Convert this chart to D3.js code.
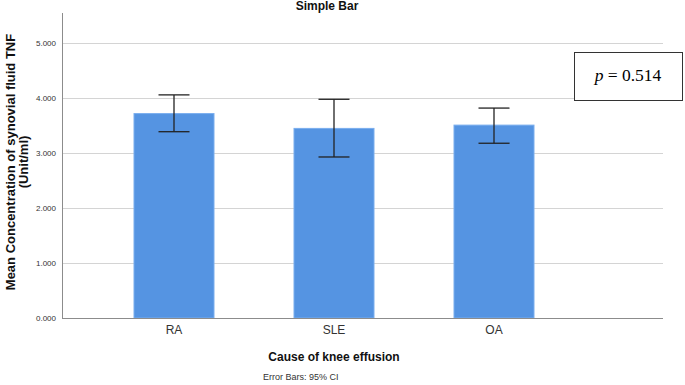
<!DOCTYPE html>
<html>
<head>
<meta charset="utf-8">
<script src="https://cdn.jsdelivr.net/npm/d3@7"></script>
<style>
  body { margin: 0; background: #fff; }
  svg { display: block; font-family: Arial, "Liberation Sans", sans-serif; }
</style>
</head>
<body>
<script>
let categories = ['RA', 'SLE', 'OA'];
let means = [3.72, 3.45, 3.51];
let ciLow = [3.39, 2.93, 3.18];
let ciHigh = [4.06, 3.98, 3.82];
let yTicks = [0, 1, 2, 3, 4, 5];

let dataset = categories.map((c, i) => ({ cat: c, mean: means[i], lo: ciLow[i], hi: ciHigh[i] }));

let dim = { width: 685, height: 385 };
let svg = d3.select('body').append('svg').attr('width', dim.width).attr('height', dim.height);

let plot = { left: 62, right: 663, top: 13, bottom: 318 };

let scaleX = d3.scaleBand().domain(categories).range([94, 574]).paddingInner(0.5).paddingOuter(0.25);
let scaleY = d3.scaleLinear().domain([0, 5.55]).range([plot.bottom, plot.top]);

// gridlines
svg.append('g')
  .selectAll('line')
  .data(yTicks.filter((d) => d > 0))
  .enter()
  .append('line')
  .attr('x1', plot.left)
  .attr('x2', plot.right)
  .attr('y1', (d) => Math.round(scaleY(d)) + 0.5)
  .attr('y2', (d) => Math.round(scaleY(d)) + 0.5)
  .attr('stroke', '#d4d4d4')
  .attr('stroke-width', 1);

// bars
svg.append('g')
  .selectAll('rect')
  .data(dataset)
  .enter()
  .append('rect')
  .attr('x', (d) => scaleX(d.cat))
  .attr('width', scaleX.bandwidth())
  .attr('y', (d) => scaleY(d.mean))
  .attr('height', (d) => scaleY(0) - scaleY(d.mean))
  .attr('fill', '#5594e2')
  .attr('stroke', '#7aaeee')
  .attr('stroke-width', 1);

// y axis
let axisY = d3.axisLeft(scaleY).tickValues(yTicks).tickFormat(d3.format('.3f')).tickSize(0).tickPadding(6);
let gy = svg.append('g').attr('transform', `translate(${plot.left}, 0)`).call(axisY);
gy.select('.domain').remove();
gy.selectAll('text').attr('font-size', 8).attr('fill', '#333').attr('font-family', 'Arial, "Liberation Sans", sans-serif');
svg.append('line')
  .attr('x1', plot.left + 0.5).attr('x2', plot.left + 0.5)
  .attr('y1', plot.top).attr('y2', plot.bottom)
  .attr('stroke', '#8c8c8c');

// x axis
let axisX = d3.axisBottom(scaleX).tickSize(0).tickPadding(7);
let gx = svg.append('g').attr('transform', `translate(0, ${plot.bottom})`).call(axisX);
gx.select('.domain').remove();
gx.selectAll('text').attr('font-size', 12).attr('fill', '#333').attr('font-family', 'Arial, "Liberation Sans", sans-serif');
svg.append('line')
  .attr('x1', plot.left).attr('x2', plot.right)
  .attr('y1', plot.bottom + 0.5).attr('y2', plot.bottom + 0.5)
  .attr('stroke', '#8c8c8c');

// error bars
let capHalf = 15.5;
let eb = svg.append('g').attr('stroke', '#222').attr('stroke-width', 1.3);
let cx = (d) => scaleX(d.cat) + scaleX.bandwidth() / 2;
eb.selectAll('.whisker').data(dataset).enter().append('line')
  .attr('x1', cx).attr('x2', cx)
  .attr('y1', (d) => scaleY(d.lo)).attr('y2', (d) => scaleY(d.hi));
eb.selectAll('.capHi').data(dataset).enter().append('line')
  .attr('x1', (d) => cx(d) - capHalf).attr('x2', (d) => cx(d) + capHalf)
  .attr('y1', (d) => scaleY(d.hi)).attr('y2', (d) => scaleY(d.hi));
eb.selectAll('.capLo').data(dataset).enter().append('line')
  .attr('x1', (d) => cx(d) - capHalf).attr('x2', (d) => cx(d) + capHalf)
  .attr('y1', (d) => scaleY(d.lo)).attr('y2', (d) => scaleY(d.lo));

// titles
svg.append('text').attr('x', 327).attr('y', 10).attr('text-anchor', 'middle')
  .attr('font-size', 12).attr('font-weight', 'bold').attr('fill', '#111').text('Simple Bar');

svg.append('text').attr('x', 334).attr('y', 361).attr('text-anchor', 'middle')
  .attr('font-size', 12).attr('font-weight', 'bold').attr('fill', '#111').text('Cause of knee effusion');

svg.append('text').attr('x', 263).attr('y', 380)
  .attr('font-size', 9).attr('fill', '#333').text('Error Bars: 95% CI');

let yTitle = svg.append('text')
  .attr('transform', 'translate(15, 162) rotate(-90)')
  .attr('text-anchor', 'middle')
  .attr('font-size', 13).attr('font-weight', 'bold').attr('fill', '#111');
yTitle.append('tspan').attr('x', 0).attr('y', 0).text('Mean Concentration of synovial fluid TNF');
yTitle.append('tspan').attr('x', 0).attr('y', 13).text('(Unit/ml)');

// p-value box
svg.append('rect').attr('x', 574.5).attr('y', 52.5).attr('width', 108).attr('height', 48)
  .attr('fill', '#fff').attr('stroke', '#333').attr('stroke-width', 1);
let pText = svg.append('text').attr('x', 628).attr('y', 81).attr('text-anchor', 'middle')
  .attr('font-family', '"Liberation Serif", "Times New Roman", serif').attr('font-size', 17.5).attr('fill', '#000');
pText.append('tspan').attr('font-style', 'italic').text('p');
pText.append('tspan').text(' = 0.514');
</script>
</body>
</html>
